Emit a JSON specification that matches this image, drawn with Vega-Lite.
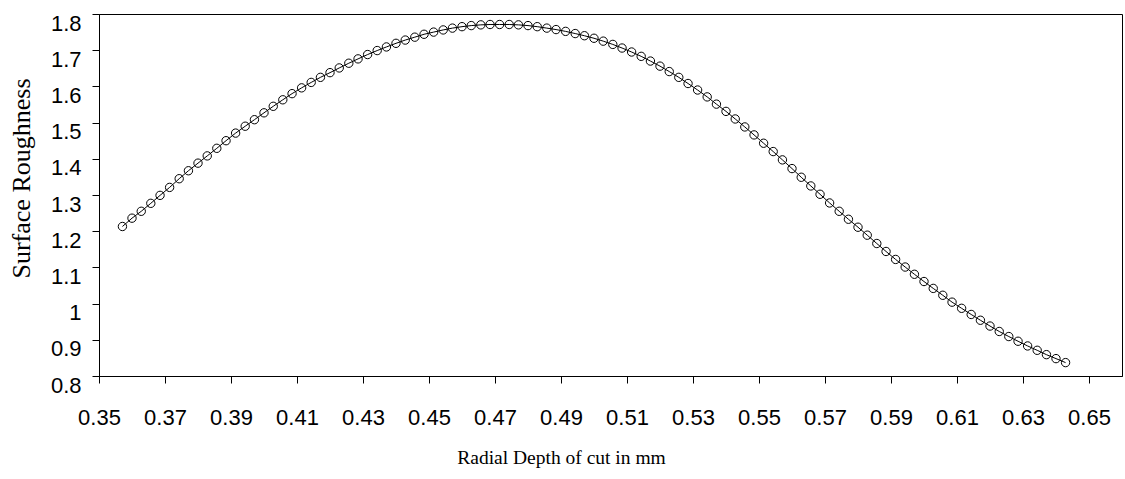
{
  "$schema": "https://vega.github.io/schema/vega-lite/v6.json",
  "autosize": {"type": "none"},
  "padding": {"left": 99, "top": 14, "right": 3, "bottom": 103},
  "width": 1023,
  "height": 362,
  "background": "white",
  "config": {
    "view": {"stroke": "black", "strokeWidth": 1},
    "axis": {"grid": false, "domainColor": "black", "tickColor": "black", "labelColor": "black", "titleColor": "black", "labelFont": "Liberation Sans", "titleFont": "Liberation Serif", "titleFontWeight": "normal", "tickSize": 7, "domainWidth": 1, "tickWidth": 1}
  },
  "data": {"values": [
    {"depth": 0.3571, "roughness": 1.213},
    {"depth": 0.3600, "roughness": 1.236},
    {"depth": 0.3628, "roughness": 1.255},
    {"depth": 0.3657, "roughness": 1.277},
    {"depth": 0.3685, "roughness": 1.299},
    {"depth": 0.3714, "roughness": 1.321},
    {"depth": 0.3743, "roughness": 1.345},
    {"depth": 0.3771, "roughness": 1.367},
    {"depth": 0.3800, "roughness": 1.388},
    {"depth": 0.3828, "roughness": 1.408},
    {"depth": 0.3857, "roughness": 1.429},
    {"depth": 0.3885, "roughness": 1.450},
    {"depth": 0.3914, "roughness": 1.471},
    {"depth": 0.3943, "roughness": 1.490},
    {"depth": 0.3971, "roughness": 1.508},
    {"depth": 0.4000, "roughness": 1.527},
    {"depth": 0.4028, "roughness": 1.545},
    {"depth": 0.4057, "roughness": 1.563},
    {"depth": 0.4085, "roughness": 1.580},
    {"depth": 0.4114, "roughness": 1.596},
    {"depth": 0.4143, "roughness": 1.611},
    {"depth": 0.4171, "roughness": 1.625},
    {"depth": 0.4200, "roughness": 1.638},
    {"depth": 0.4228, "roughness": 1.651},
    {"depth": 0.4257, "roughness": 1.664},
    {"depth": 0.4285, "roughness": 1.676},
    {"depth": 0.4314, "roughness": 1.688},
    {"depth": 0.4343, "roughness": 1.699},
    {"depth": 0.4371, "roughness": 1.709},
    {"depth": 0.4400, "roughness": 1.719},
    {"depth": 0.4428, "roughness": 1.728},
    {"depth": 0.4457, "roughness": 1.736},
    {"depth": 0.4485, "roughness": 1.744},
    {"depth": 0.4514, "roughness": 1.750},
    {"depth": 0.4543, "roughness": 1.756},
    {"depth": 0.4571, "roughness": 1.761},
    {"depth": 0.4600, "roughness": 1.765},
    {"depth": 0.4628, "roughness": 1.768},
    {"depth": 0.4657, "roughness": 1.770},
    {"depth": 0.4685, "roughness": 1.771},
    {"depth": 0.4714, "roughness": 1.771},
    {"depth": 0.4743, "roughness": 1.771},
    {"depth": 0.4771, "roughness": 1.770},
    {"depth": 0.4800, "roughness": 1.768},
    {"depth": 0.4828, "roughness": 1.765},
    {"depth": 0.4857, "roughness": 1.761},
    {"depth": 0.4885, "roughness": 1.757},
    {"depth": 0.4914, "roughness": 1.752},
    {"depth": 0.4943, "roughness": 1.746},
    {"depth": 0.4971, "roughness": 1.740},
    {"depth": 0.5000, "roughness": 1.733},
    {"depth": 0.5028, "roughness": 1.725},
    {"depth": 0.5057, "roughness": 1.716},
    {"depth": 0.5085, "roughness": 1.706},
    {"depth": 0.5114, "roughness": 1.695},
    {"depth": 0.5143, "roughness": 1.683},
    {"depth": 0.5171, "roughness": 1.670},
    {"depth": 0.5200, "roughness": 1.656},
    {"depth": 0.5228, "roughness": 1.641},
    {"depth": 0.5257, "roughness": 1.625},
    {"depth": 0.5285, "roughness": 1.608},
    {"depth": 0.5314, "roughness": 1.590},
    {"depth": 0.5343, "roughness": 1.571},
    {"depth": 0.5371, "roughness": 1.551},
    {"depth": 0.5400, "roughness": 1.531},
    {"depth": 0.5428, "roughness": 1.510},
    {"depth": 0.5457, "roughness": 1.488},
    {"depth": 0.5485, "roughness": 1.466},
    {"depth": 0.5514, "roughness": 1.443},
    {"depth": 0.5543, "roughness": 1.420},
    {"depth": 0.5571, "roughness": 1.397},
    {"depth": 0.5600, "roughness": 1.373},
    {"depth": 0.5628, "roughness": 1.349},
    {"depth": 0.5657, "roughness": 1.325},
    {"depth": 0.5685, "roughness": 1.302},
    {"depth": 0.5714, "roughness": 1.278},
    {"depth": 0.5743, "roughness": 1.255},
    {"depth": 0.5771, "roughness": 1.233},
    {"depth": 0.5800, "roughness": 1.211},
    {"depth": 0.5828, "roughness": 1.189},
    {"depth": 0.5857, "roughness": 1.166},
    {"depth": 0.5885, "roughness": 1.144},
    {"depth": 0.5914, "roughness": 1.122},
    {"depth": 0.5943, "roughness": 1.101},
    {"depth": 0.5971, "roughness": 1.081},
    {"depth": 0.6000, "roughness": 1.061},
    {"depth": 0.6028, "roughness": 1.042},
    {"depth": 0.6057, "roughness": 1.023},
    {"depth": 0.6085, "roughness": 1.004},
    {"depth": 0.6114, "roughness": 0.987},
    {"depth": 0.6143, "roughness": 0.970},
    {"depth": 0.6171, "roughness": 0.954},
    {"depth": 0.6200, "roughness": 0.938},
    {"depth": 0.6228, "roughness": 0.923},
    {"depth": 0.6257, "roughness": 0.909},
    {"depth": 0.6285, "roughness": 0.896},
    {"depth": 0.6314, "roughness": 0.883},
    {"depth": 0.6343, "roughness": 0.871},
    {"depth": 0.6371, "roughness": 0.859},
    {"depth": 0.6400, "roughness": 0.848},
    {"depth": 0.6429, "roughness": 0.837}
  ]},
  "encoding": {
    "x": {
      "field": "depth", "type": "quantitative",
      "scale": {"domain": [0.35, 0.66], "nice": false, "zero": false},
      "axis": {
        "title": "Radial Depth of cut in mm",
        "values": [0.35, 0.37, 0.39, 0.41, 0.43, 0.45, 0.47, 0.49, 0.51, 0.53, 0.55, 0.57, 0.59, 0.61, 0.63, 0.65],
        "format": ".2f",
        "labelFontSize": 22, "labelPadding": 24, "labelBaseline": "top", "labelFlush": false, "labelOverlap": false,
        "titleFontSize": 19.5, "titleX": 462, "titleY": 87, "titleBaseline": "alphabetic", "titleAlign": "center"
      }
    },
    "y": {
      "field": "roughness", "type": "quantitative",
      "scale": {"domain": [0.8, 1.8], "nice": false, "zero": false},
      "axis": {
        "title": "Surface Roughness",
        "values": [0.8, 0.9, 1, 1.1, 1.2, 1.3, 1.4, 1.5, 1.6, 1.7, 1.8],
        "format": "~g",
        "labelFontSize": 22, "labelPadding": 11, "labelBaseline": "top", "labelOffset": -1, "labelFlush": false, "labelOverlap": false,
        "titleFontSize": 26, "titleX": -78, "titleY": 164, "titleBaseline": "middle", "titleAlign": "center", "titleAngle": -90
      }
    }
  },
  "layer": [
    {"mark": {"type": "line", "color": "black", "strokeWidth": 1}},
    {"mark": {"type": "point", "filled": false, "stroke": "black", "strokeWidth": 1, "size": 70, "opacity": 1}}
  ]
}
